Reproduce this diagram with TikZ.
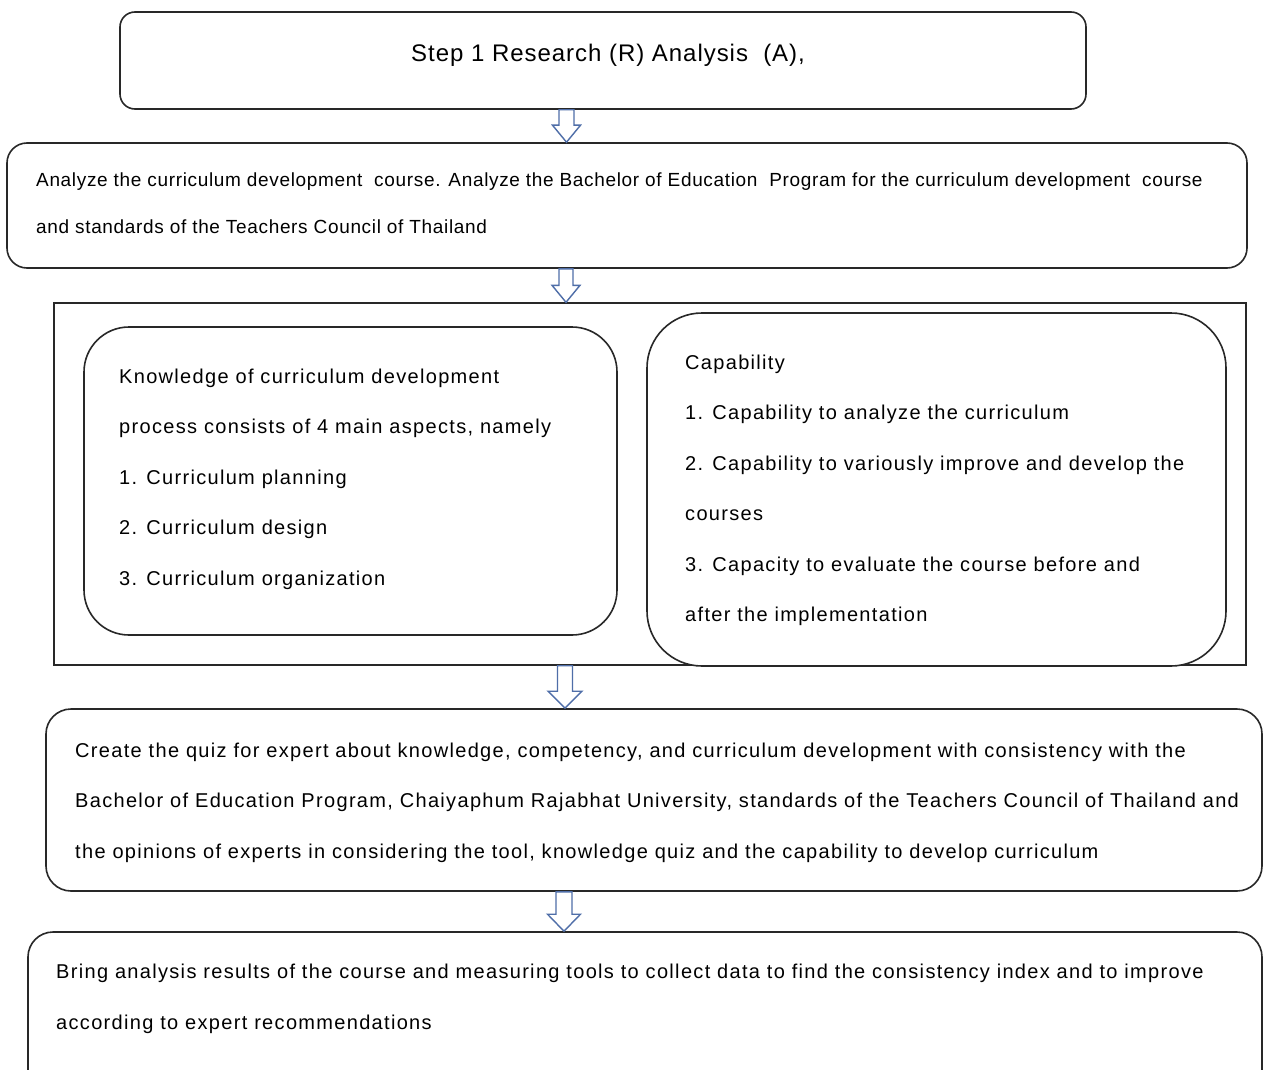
\documentclass[tikz,border=0pt]{standalone}
\usepackage{fontspec}
\setmainfont{Liberation Sans}
\newfontfamily\bodyfont[LetterSpace=6.6]{Liberation Sans}
\newfontfamily\stepfont[LetterSpace=4]{Liberation Sans}
\newfontfamily\anafont[LetterSpace=3.5]{Liberation Sans}
\usetikzlibrary{calc}
\definecolor{arrowblue}{RGB}{79,110,168}
\definecolor{edge}{RGB}{40,40,40}
\newcommand\blockarr[5]{%
  \draw[barrow] let \p1=(#1.south), \p2=(#2.north) in
    ({#3pt-#5pt},\y1) -- ({#3pt+#5pt},\y1) -- ({#3pt+#5pt},{\y2+17pt})
    -- ({#3pt+#4pt},{\y2+17pt}) -- (#3pt,\y2) -- ({#3pt-#4pt},{\y2+17pt})
    -- ({#3pt-#5pt},{\y2+17pt}) -- cycle;}
\begin{document}
\begin{tikzpicture}[x=1pt,y=-1pt,
  box/.style={draw=edge, line width=1.6pt, fill=white, inner sep=0pt},
  frame/.style={draw=edge, line width=1.4pt, inner sep=0pt},
  txt/.style={inner sep=0pt, align=left, text=black},
  body/.style={txt, font=\bodyfont\fontsize{20}{50.5}\selectfont},
  barrow/.style={draw=arrowblue, line width=1.4pt, fill=white, line join=miter}]
\useasboundingbox (0,0) rectangle (1263,1070);
\clip (0,0) rectangle (1263,1070);
\fill[white] (0,0) rectangle (1263,1070);
% boxes
\node[box, rounded corners=15pt, minimum width=966pt, minimum height=97pt] (b1) at (603,60.5) {};
\node[box, rounded corners=20pt, minimum width=1240pt, minimum height=125pt] (b2) at (627,205.5) {};
\node[frame, minimum width=1192pt, minimum height=362pt] (outer) at (650,484) {};
\node[box, rounded corners=45pt, minimum width=533pt, minimum height=308pt] (know) at (350.5,481) {};
\node[box, rounded corners=55pt, minimum width=579pt, minimum height=353pt] (cap) at (936.5,489.5) {};
\node[box, rounded corners=25pt, minimum width=1216pt, minimum height=182pt] (create) at (654,800) {};
\node[box, rounded corners=25pt, minimum width=1234pt, minimum height=168pt] (bring) at (645,1016) {};
% texts
\node[txt, font=\stepfont\fontsize{24}{29}\selectfont, anchor=base west] (t1) at (411,62) {Step 1 Research (R) Analysis\ \ (A),};
\node[txt, font=\anafont\fontsize{19}{47}\selectfont, anchor=north west] (t2) at (36,153.1)
  {\strut Analyze the curriculum development\ \ course. Analyze the Bachelor of Education\ \ Program for the curriculum development\ \ course\\
   and standards of the Teachers Council of Thailand};
\node[body, anchor=north west] (t3) at (119,347.5)
  {\strut Knowledge of curriculum development\\
   process consists of 4 main aspects, namely\\
   1. Curriculum planning\\
   2. Curriculum design\\
   3. Curriculum organization};
\node[body, anchor=north west] (t4) at (685,333.6)
  {\strut Capability\\
   1. Capability to analyze the curriculum\\
   2. Capability to variously improve and develop the\\
   courses\\
   3. Capacity to evaluate the course before and\\
   after the implementation};
\node[body, anchor=north west] (t5) at (75,721.6)
  {\strut Create the quiz for expert about knowledge, competency, and curriculum development with consistency with the\\
   Bachelor of Education Program, Chaiyaphum Rajabhat University, standards of the Teachers Council of Thailand and\\
   the opinions of experts in considering the tool, knowledge quiz and the capability to develop curriculum};
\node[body, anchor=north west] (t6) at (56,943)
  {\strut Bring analysis results of the course and measuring tools to collect data to find the consistency index and to improve\\
   according to expert recommendations};
% arrows
\blockarr{b1}{b2}{566.5}{14}{7.5}
\blockarr{b2}{outer}{566}{14}{7}
\blockarr{outer}{create}{565}{17}{7.5}
\blockarr{create}{bring}{564}{16.5}{8}
\end{tikzpicture}
\end{document}
